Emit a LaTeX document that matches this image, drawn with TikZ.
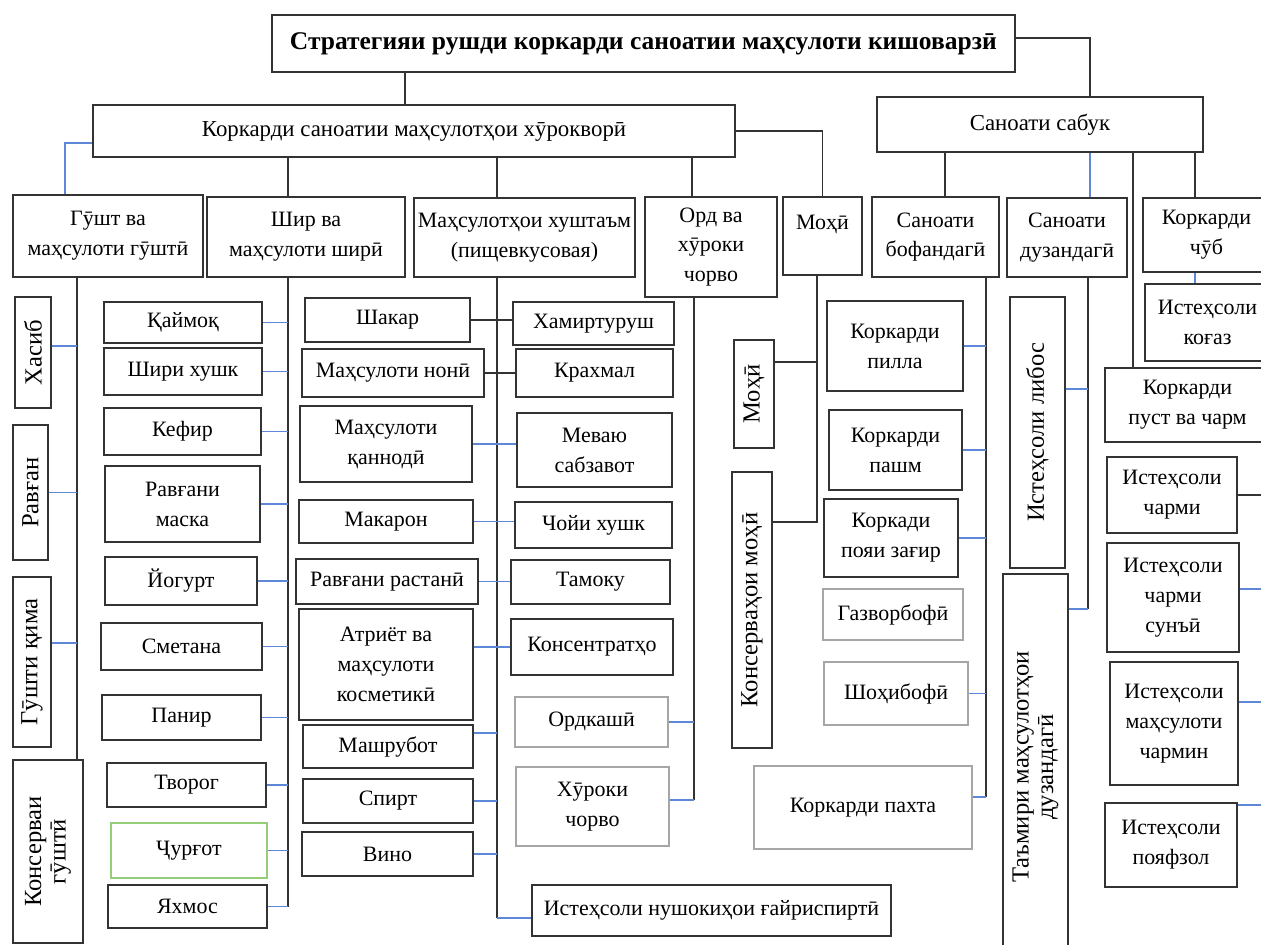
\documentclass[tikz,border=0pt]{standalone}
\usepackage{fontspec}
\setmainfont{Liberation Serif}
\usetikzlibrary{calc}
\definecolor{lnblue}{RGB}{95,135,215}
\definecolor{boxgreen}{RGB}{150,205,120}
\tikzset{box/.style={rectangle,draw=black!80,line width=1pt,fill=white,align=center,inner sep=1pt,font=\fontsize{12.5}{17}\selectfont}}
\tikzset{wh/.style 2 args={minimum width=#1*0.02cm,minimum height=#2*0.02cm}}
\tikzset{vbox/.style={box,rotate=90,font=\fontsize{14}{14}\selectfont}}
\tikzset{faint/.style={draw=black!35}}
\tikzset{ln/.style={draw=black!80,line width=0.9pt}}
\tikzset{bl/.style={draw=lnblue,line width=0.9pt}}

\begin{document}
\begin{tikzpicture}[x=0.02cm,y=-0.02cm]
\useasboundingbox (0,0) rectangle (1261,944);
% upper levels
\node[box,wh={743}{57},font=\bfseries\fontsize{14.5}{17}\selectfont] (top) at (643.5,43.5) {Стратегияи рушди коркарди саноатии маҳсулоти кишоварзӣ};
\node[box,wh={642}{52},font=\fontsize{13}{17}\selectfont] (kork) at (414,131) {Коркарди саноатии маҳсулотҳои хӯрокворӣ};
\node[box,wh={326}{55},font=\fontsize{13}{17}\selectfont] (sabuk) at (1040,124.5) {Саноати сабук};

\node[box,wh={190}{82}] (gusht) at (108,236) {Гӯшт ва\\маҳсулоти гӯштӣ};
\node[box,wh={198}{80}] (shir) at (306,237) {Шир ва\\маҳсулоти ширӣ};
\node[box,wh={221}{79}] (hush) at (524.5,237.5) {Маҳсулотҳои хуштаъм\\(пищевкусовая)};
\node[box,wh={132}{100}] (ord) at (711,247) {Орд ва\\хӯроки\\чорво};
\node[box,wh={79}{78},text depth=16pt] (moh) at (822.5,236) {Моҳӣ};
\node[box,wh={127}{80}] (bof) at (935.5,237) {Саноати\\бофандагӣ};
\node[box,wh={120}{79}] (duz) at (1067,237.5) {Саноати\\дузандагӣ};
\node[box,wh={127}{74}] (chub) at (1206.5,235) {Коркарди\\чӯб};

% meat
\node[vbox,wh={111}{36}] (hasib) at (33,352.5) {Хасиб};
\node[vbox,wh={135}{35}] (ravgan) at (30.5,492.5) {Равған};
\node[vbox,wh={170}{38}] (qima) at (32,662) {Гӯшти қима};
\node[vbox,wh={183}{70}] (konsg) at (48,851.5) {Консерваи\\гӯштӣ};

% dairy
\node[box,wh={158}{41}] (kaymoq) at (183,322.5) {Қаймоқ};
\node[box,wh={158}{47}] (shirih) at (183,371.5) {Шири хушк};
\node[box,wh={157}{47}] (kefir) at (182.5,431.5) {Кефир};
\node[box,wh={155}{76}] (maska) at (182.5,504) {Равғани\\маска};
\node[box,wh={152}{48}] (yogurt) at (181,581) {Йогурт};
\node[box,wh={161}{47}] (smetana) at (181.5,646.5) {Сметана};
\node[box,wh={159}{45}] (panir) at (181.5,717.5) {Панир};
\node[box,wh={159}{44}] (tvorog) at (186.5,785) {Творог};
\node[box,wh={156}{55},draw=boxgreen] (jurgot) at (189,850.5) {Ҷурғот};
\node[box,wh={159}{43}] (yakhmos) at (187.5,906.5) {Яхмос};

% food and flavour
\node[box,wh={165}{44}] (shakar) at (387.5,320) {Шакар};
\node[box,wh={182}{48}] (noni) at (393,373) {Маҳсулоти нонӣ};
\node[box,wh={172}{76}] (qannodi) at (386,444) {Маҳсулоти\\қаннодӣ};
\node[box,wh={174}{43}] (makaron) at (386,521.5) {Макарон};
\node[box,wh={182}{45}] (ravrast) at (387,581.5) {Равғани растанӣ};
\node[box,wh={174}{111}] (atriyot) at (386,664.5) {Атриёт ва\\маҳсулоти\\косметикӣ};
\node[box,wh={170}{43}] (mashrubot) at (388,746.5) {Машрубот};
\node[box,wh={170}{44}] (spirt) at (388,801) {Спирт};
\node[box,wh={171}{44}] (vino) at (387.5,854) {Вино};
\node[box,wh={161}{43}] (khamir) at (593.5,323.5) {Хамиртуруш};
\node[box,wh={157}{48}] (krakhmal) at (594.5,373) {Крахмал};
\node[box,wh={155}{74}] (meva) at (594.5,450) {Меваю\\сабзавот};
\node[box,wh={157}{46}] (choy) at (593.5,525) {Чойи хушк};
\node[box,wh={159}{44}] (tamoku) at (590.5,582) {Тамоку};
\node[box,wh={162}{56}] (konsent) at (592,647) {Консентратҳо};
\node[box,wh={153}{50},faint] (ordkash) at (591.5,722) {Ордкашӣ};
\node[box,wh={153}{79},faint] (khurok) at (592.5,806.5) {Хӯроки\\чорво};
\node[box,wh={359}{51}] (nush) at (711.5,910.5) {Истеҳсоли нушокиҳои ғайриспиртӣ};

% fish
\node[vbox,wh={108}{40}] (mohv) at (754,394) {Моҳӣ};
\node[vbox,wh={276}{40}] (konsmoh) at (752,610) {Консерваҳои моҳӣ};

% textile
\node[box,wh={136}{90}] (pilla) at (895,346) {Коркарди\\пилла};
\node[box,wh={133}{80}] (pashm) at (895.5,450) {Коркарди\\пашм};
\node[box,wh={134}{78}] (zagir) at (891,538) {Коркади\\пояи зағир};
\node[box,wh={140}{51},faint] (gazvor) at (893,614.5) {Газворбофӣ};
\node[box,wh={144}{63},faint] (shoh) at (896,693.5) {Шоҳибофӣ};
\node[box,wh={218}{83},faint] (pakhta) at (863,807.5) {Коркарди пахта};

% sewing
\node[vbox,wh={271}{55}] (libos) at (1037.5,432.5) {Истеҳсоли либос};
\node[vbox,wh={386}{65}] (tamir) at (1035.5,767) {Таъмири маҳсулотҳои\\дузандагӣ};

% wood, leather
\node[box,wh={125}{77}] (kogaz) at (1207.5,322.5) {Истеҳсоли\\коғаз};
\node[box,wh={165}{74}] (pust) at (1187.5,405) {Коркарди\\пуст ва чарм};
\node[box,wh={130}{76}] (charmi) at (1172,495) {Истеҳсоли\\чарми};
\node[box,wh={132}{109}] (sunyi) at (1173,597.5) {Истеҳсоли\\чарми\\сунъӣ};
\node[box,wh={128}{123}] (charmin) at (1174,723.5) {Истеҳсоли\\маҳсулоти\\чармин};
\node[box,wh={132}{84}] (poyafzol) at (1171,845) {Истеҳсоли\\пояфзол};
\coordinate (redge) at (1261,0);

% connectors
\draw[ln] (405,0 |- top.south) -- (405,0 |- kork.north);
\draw[ln] (top.east |- 0,38) -| (1090,0 |- sabuk.north);
\draw[ln] (kork.east) -| (moh.north);
\draw[bl] (kork.west |- 0,143) -| (65,0 |- gusht.north);
\foreach \x/\n in {288/shir,497/hush,692/ord}
  \draw[ln] (\x,0 |- kork.south) -- (\x,0 |- \n.north);
\foreach \x/\n in {945/bof,1133/pust,1195/chub}
  \draw[ln] (\x,0 |- sabuk.south) -- (\x,0 |- \n.north);
\draw[bl] (1090,0 |- sabuk.south) -- (1090,0 |- duz.north);
\draw[bl] (1195,0 |- chub.south) -- (1195,0 |- kogaz.north);

\draw[ln] (77,0 |- gusht.south) -- (77,0 |- konsg.east);
\draw[bl] (hasib.south |- 0,346) -- (77,346);
\draw[bl] (ravgan.south) -- (77,0 |- ravgan.south);
\draw[bl] (qima.south |- 0,643) -- (77,643);

\draw[ln] (288,0 |- shir.south) -- (288,0 |- yakhmos.east);
\foreach \n in {kaymoq,shirih,kefir,maska,yogurt,smetana,panir,tvorog,jurgot,yakhmos}
  \draw[bl] (\n.east) -- (288,0 |- \n.east);

\draw[ln] (497,0 |- hush.south) -- (497,918);
\draw[bl] (497,918) -- (nush.west |- 0,918);
\draw[ln] (shakar.east) -- (shakar.east -| khamir.west);
\draw[ln] (noni.east) -- (noni.east -| krakhmal.west);
\foreach \a/\b in {qannodi/meva,makaron/choy,ravrast/tamoku}
  \draw[bl] (\a.east) -- (\a.east -| \b.west);
\draw[bl] (konsent.west) -- (konsent.west -| atriyot.east);
\draw[bl] (mashrubot.east |- 0,733) -- (497,733);
\foreach \n in {spirt,vino}
  \draw[bl] (\n.east) -- (497,0 |- \n.east);

\draw[ln] (694,0 |- ord.south) -- (694,800);
\draw[bl] (ordkash.east) -- (694,0 |- ordkash.east);
\draw[bl] (khurok.east |- 0,800) -- (694,800);

\draw[ln] (817,0 |- moh.south) -- (817,522) -- (konsmoh.south |- 0,522);
\draw[ln] (mohv.south |- 0,362) -- (817,362);

\draw[ln] (986,0 |- bof.south) -- (986,797);
\foreach \n in {pilla,pashm,zagir,shoh}
  \draw[bl] (\n.east) -- (986,0 |- \n.east);
\draw[bl] (pakhta.east |- 0,797) -- (986,797);

\draw[ln] (1088,0 |- duz.south) -- (1088,609);
\draw[bl] (libos.south |- 0,389) -- (1088,389);
\draw[bl] (tamir.south |- 0,609) -- (1088,609);

\draw[ln] (charmi.east) -- (charmi.east -| redge);
\draw[bl] (sunyi.east |- 0,589) -- (redge |- 0,589);
\draw[bl] (charmin.east |- 0,702) -- (redge |- 0,702);
\draw[bl] (poyafzol.east |- 0,805) -- (redge |- 0,805);
\end{tikzpicture}
\end{document}
